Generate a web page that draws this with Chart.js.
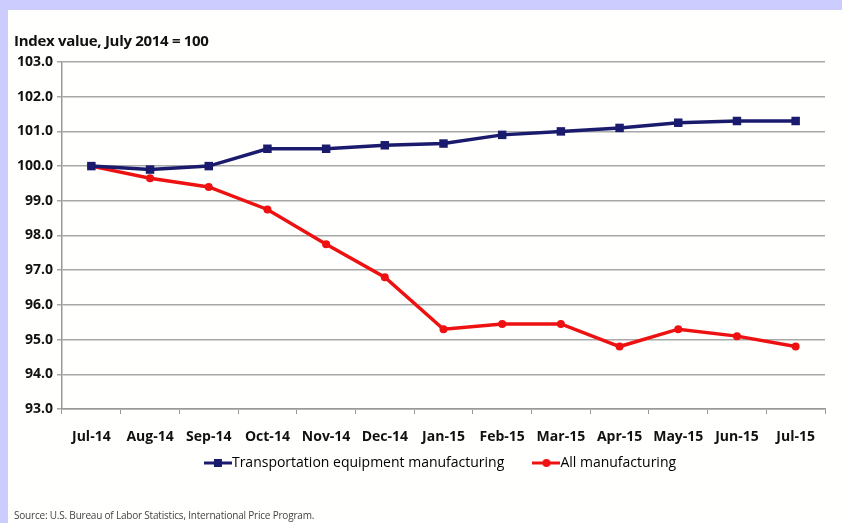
<!DOCTYPE html>
<html>
<head>
<meta charset="utf-8">
<script src="https://cdn.jsdelivr.net/npm/chart.js@4"></script>
<style>
  html, body { margin: 0; padding: 0; }
  body { width: 842px; height: 523px; background: #ccccff; position: relative; overflow: hidden; }
  #panel { position: absolute; left: 8px; top: 10px; width: 834px; height: 513px; background: #fffffd; }
  #wrap { position: absolute; left: 0; top: 0; width: 842px; height: 523px; }
  .txt { position: absolute; font-family: "Open Sans", sans-serif; color: #111; }
  #ytitle { left: 14px; top: 30px; font-size: 15px; font-weight: bold; letter-spacing: -0.3px; }
  #source { left: 14px; top: 508px; font-size: 10px; color: #444; letter-spacing: -0.2px; }
</style>
</head>
<body>
<div id="panel"></div>
<div id="wrap"><canvas id="chart" width="842" height="523"></canvas></div>
<div class="txt" id="ytitle">Index value, July 2014 = 100</div>
<div class="txt" id="source">Source: U.S. Bureau of Labor Statistics, International Price Program.</div>
<script>
// categories and series
const months = ["Jul-14","Aug-14","Sep-14","Oct-14","Nov-14","Dec-14","Jan-15","Feb-15","Mar-15","Apr-15","May-15","Jun-15","Jul-15"];
const transportation = [100.0, 99.9, 100.0, 100.5, 100.5, 100.6, 100.65, 100.9, 101.0, 101.1, 101.25, 101.3, 101.3];
const allManufacturing = [100.0, 99.65, 99.4, 98.75, 97.75, 96.8, 95.3, 95.45, 95.45, 94.8, 95.3, 95.1, 94.8];
const yMin = 93, yMax = 103;

const NAVY = "#1b1b6e";
const RED = "#ee1111";
const FONT = "'Open Sans', sans-serif";

// small legend icon: line with marker on it
function legendIcon(color, shape) {
  const c = document.createElement("canvas");
  c.width = 28; c.height = 12;
  const g = c.getContext("2d");
  g.strokeStyle = color; g.lineWidth = 3;
  g.beginPath(); g.moveTo(0, 6); g.lineTo(28, 6); g.stroke();
  g.fillStyle = color;
  if (shape === "rect") g.fillRect(10, 2, 8, 8);
  else { g.beginPath(); g.arc(14, 6, 4, 0, Math.PI*2); g.fill(); }
  return c;
}

const ctx = document.getElementById("chart").getContext("2d");
new Chart(ctx, {
  type: "line",
  data: {
    labels: months,
    datasets: [
      {
        label: "Transportation equipment manufacturing",
        data: transportation,
        borderColor: NAVY, backgroundColor: NAVY,
        borderWidth: 3.5, pointStyle: "rect", pointRadius: 6, pointBorderWidth: 0,
        tension: 0
      },
      {
        label: "All manufacturing",
        data: allManufacturing,
        borderColor: RED, backgroundColor: RED,
        borderWidth: 3.5, pointStyle: "circle", pointRadius: 4, pointBorderWidth: 0,
        tension: 0
      }
    ]
  },
  options: {
    responsive: false,
    animation: false,
    layout: { padding: { left: 8, top: 62, right: 17, bottom: 43 } },
    plugins: {
      tooltip: { enabled: false },
      legend: {
        position: "bottom",
        fullSize: false,
        labels: {
          usePointStyle: true,
          color: "#111",
          font: { family: FONT, size: 14 },
          padding: 6,
          generateLabels: chart => chart.data.datasets.map((ds, i) => ({
            // trailing spaces widen the gap between the two entries
            text: i === 0 ? ds.label + "\u00A0".repeat(8) : ds.label,
            pointStyle: legendIcon(ds.borderColor, i === 0 ? "rect" : "circle"),
            fillStyle: ds.borderColor, strokeStyle: ds.borderColor,
            lineWidth: 0, datasetIndex: i, hidden: false
          }))
        }
      }
    },
    scales: {
      x: {
        offset: true,
        grid: { offset: true, drawOnChartArea: false, drawTicks: true, tickLength: 5, color: "#999" },
        border: { color: "#999", width: 1.5 },
        ticks: { color: "#111", font: { family: FONT, size: 14, weight: "bold" }, padding: 15, maxRotation: 0 },
        afterFit: s => { s.height = 41; }
      },
      y: {
        min: yMin, max: yMax,
        grid: { color: "#a8a8a8", lineWidth: 1.5, tickLength: 5, drawTicks: true },
        border: { color: "#999", width: 1.5 },
        ticks: {
          stepSize: 1, color: "#111", padding: 4,
          font: { family: FONT, size: 14, weight: "bold" },
          callback: v => Number(v).toFixed(1)
        },
        afterFit: s => { s.width = 54; }
      }
    }
  }
});
</script>
</body>
</html>
